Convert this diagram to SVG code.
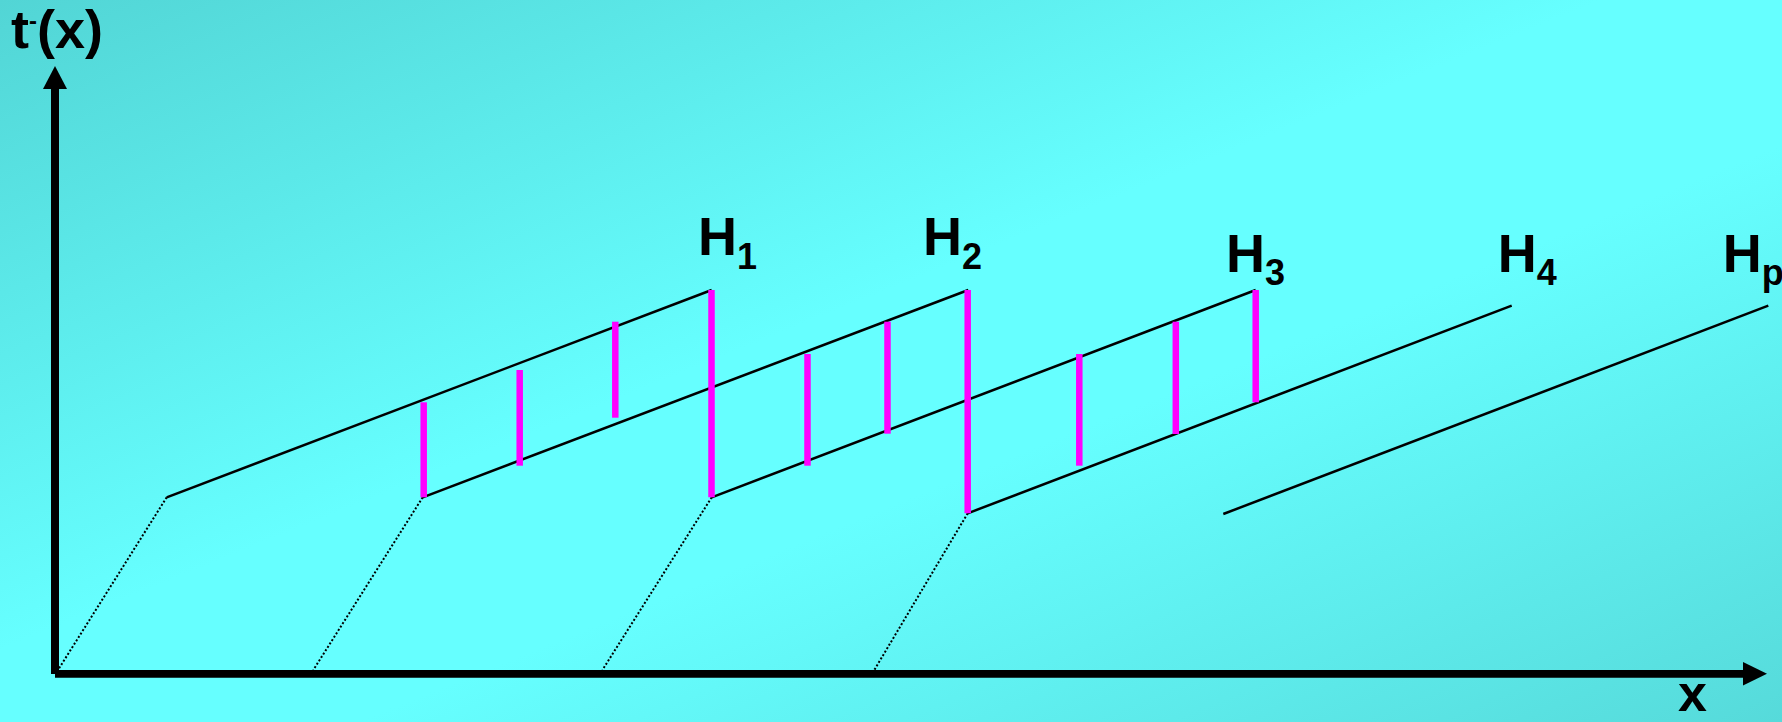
<svg xmlns="http://www.w3.org/2000/svg" width="1782" height="722" viewBox="0 0 1782 722">
  <defs>
    <linearGradient id="bg" x1="0" y1="0" x2="1" y2="1">
      <stop offset="0" stop-color="#52D5D5"/>
      <stop offset="0.45" stop-color="#66FFFF"/>
      <stop offset="0.6" stop-color="#66FFFF"/>
      <stop offset="1" stop-color="#56DADA"/>
    </linearGradient>
    <style>
      .lbl { font-family: "Liberation Sans", Arial, sans-serif; font-weight: bold; font-size: 54px; fill: #000; }
      .sub { font-size: 36px; }
      .sup { font-size: 24px; }
      .axis { stroke: #000; stroke-width: 8; fill: none; }
      .ln { stroke: #000; stroke-width: 2.5; fill: none; }
      .dot { stroke: #000; stroke-width: 2; stroke-dasharray: 2 2; fill: none; }
      .pk { stroke: #FF00FF; stroke-width: 6.5; fill: none; }
    </style>
  </defs>
  <rect x="0" y="0" width="1782" height="722" fill="url(#bg)"/>

  <g id="axes">
    <line class="axis" x1="55" y1="86" x2="55" y2="674"/>
    <polygon points="55,66 43,89 67,89" fill="#000"/>
    <line class="axis" x1="55" y1="673.8" x2="1745" y2="673.8" style="stroke-width:7.7"/>
    <polygon points="1767,673.8 1743,662 1743,685.5" fill="#000"/>
    <text id="ylabel" class="lbl" x="11" y="48">t<tspan class="sup" dy="-19">-</tspan><tspan dy="19">(x)</tspan></text>
    <text id="xlabel" class="lbl" x="1678" y="711" style="font-size:52px">x</text>
  </g>

  <g id="connectors">
    <line class="ln" x1="166.7" y1="497.3" x2="711.7" y2="290"/>
    <line class="ln" x1="422.7" y1="497.3" x2="968.3" y2="290"/>
    <line class="ln" x1="711.7" y1="497.3" x2="1255.7" y2="290"/>
    <line class="ln" x1="967.7" y1="513.3" x2="1511.7" y2="305.7"/>
    <line class="ln" x1="1223.3" y1="514" x2="1768.3" y2="305.7"/>

    <line class="dot" x1="166.7" y1="497.3" x2="58" y2="670"/>
    <line class="dot" x1="422.7" y1="497.3" x2="313.3" y2="670"/>
    <line class="dot" x1="711.7" y1="497.3" x2="602.4" y2="670"/>
    <line class="dot" x1="967.7" y1="513.3" x2="874.3" y2="670"/>

    <line class="pk" x1="423.7" y1="402.3" x2="423.7" y2="497.3"/>
    <line class="pk" x1="519.7" y1="370" x2="519.7" y2="465.7"/>
    <line class="pk" x1="615.3" y1="321.7" x2="615.3" y2="417.7"/>
    <line class="pk" x1="711.5" y1="290" x2="711.5" y2="497.3"/>
    <line class="pk" x1="807.5" y1="354" x2="807.5" y2="465.7"/>
    <line class="pk" x1="887.5" y1="321.7" x2="887.5" y2="433.7"/>
    <line class="pk" x1="967.7" y1="290" x2="967.7" y2="513.3"/>
    <line class="pk" x1="1079.3" y1="354" x2="1079.3" y2="465.7"/>
    <line class="pk" x1="1175.8" y1="321.7" x2="1175.8" y2="434"/>
    <line class="pk" x1="1255.7" y1="290" x2="1255.7" y2="402.3"/>
  </g>

  <g id="H1"><text class="lbl" x="698" y="255">H<tspan class="sub" dy="14">1</tspan></text></g>
  <g id="H2"><text class="lbl" x="923" y="255">H<tspan class="sub" dy="14">2</tspan></text></g>
  <g id="H3"><text class="lbl" x="1226" y="271.7">H<tspan class="sub" dy="13.3">3</tspan></text></g>
  <g id="H4"><text class="lbl" x="1497.8" y="271.7">H<tspan class="sub" dy="13.3">4</tspan></text></g>
  <g id="Hp"><text class="lbl" x="1722.8" y="271.7">H<tspan class="sub" dy="13.3">p</tspan></text></g>
</svg>
